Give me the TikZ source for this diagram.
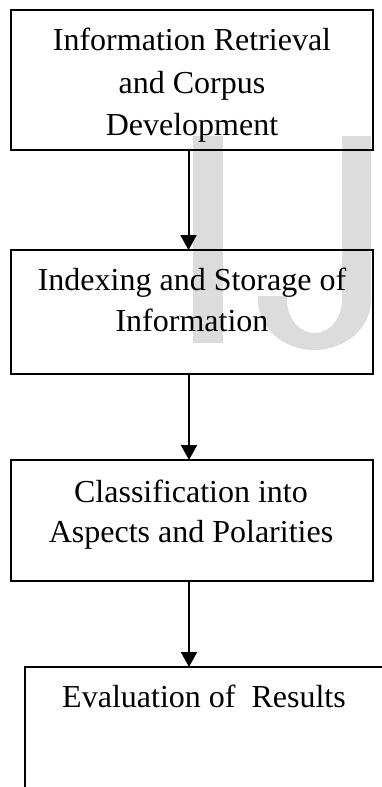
\documentclass[tikz,border=0pt]{standalone}
\usepackage{fontspec}
\setmainfont{Liberation Serif}
\usetikzlibrary{arrows.meta}
\definecolor{wmgray}{RGB}{220,220,220}
\tikzset{
  box/.style={draw=black, line width=1.8pt, rectangle, inner sep=0pt, outer sep=0pt},
  label/.style={anchor=north, inner sep=0pt, align=center, font=\fontsize{32}{41}\selectfont},
  flow/.style={draw=black, line width=2pt, -{Triangle[width=16pt,length=15pt]}},
  wm/.style={fill=wmgray, draw=none}
}
\begin{document}
\begin{tikzpicture}[x=1pt, y=-1pt]
\clip (0,0) rectangle (382,787);
\fill[white] (0,0) rectangle (382,787);
% watermark
\fill[wm] (193,136) rectangle (223,343);
\fill[wm] (342,136) -- (371,136) -- (371,300)
  arc[start angle=0, end angle=180, x radius=56.5, y radius=50]
  -- (258,296) -- (287,296) -- (287,300)
  arc[start angle=180, end angle=0, x radius=27.5, y radius=33]
  -- cycle;
% boxes
\node[box, minimum width=362pt, minimum height=140pt] (b1) at (192,80) {};
\node[box, minimum width=362pt, minimum height=124pt] (b2) at (192,312) {};
\node[box, minimum width=362pt, minimum height=121pt] (b3) at (192,520.5) {};
\node[box, minimum width=400pt, minimum height=200pt, anchor=north west] (b4) at (25,667) {};
% texts
\node[label, font=\fontsize{32}{42.5}\selectfont] (t1) at (192,28) {Information Retrieval\\and Corpus\\Development};
\node[label] (t2) at (192,268) {Indexing and Storage of\\Information};
\node[label, font=\fontsize{32}{39.5}\selectfont] (t3) at (191,480) {Classification into\\Aspects and Polarities};
\node[label] (t4) at (204,685) {Evaluation of\ \ Results};
% connectors
\draw[flow] ([xshift=-3.5pt]b1.south) -- ([xshift=-3.5pt]b2.north);
\draw[flow] ([xshift=-3pt]b2.south) -- ([xshift=-3pt]b3.north);
\draw[flow] ([xshift=-3pt]b3.south) -- ([xshift=-3pt]b3.south |- b4.north);
\end{tikzpicture}
\end{document}
